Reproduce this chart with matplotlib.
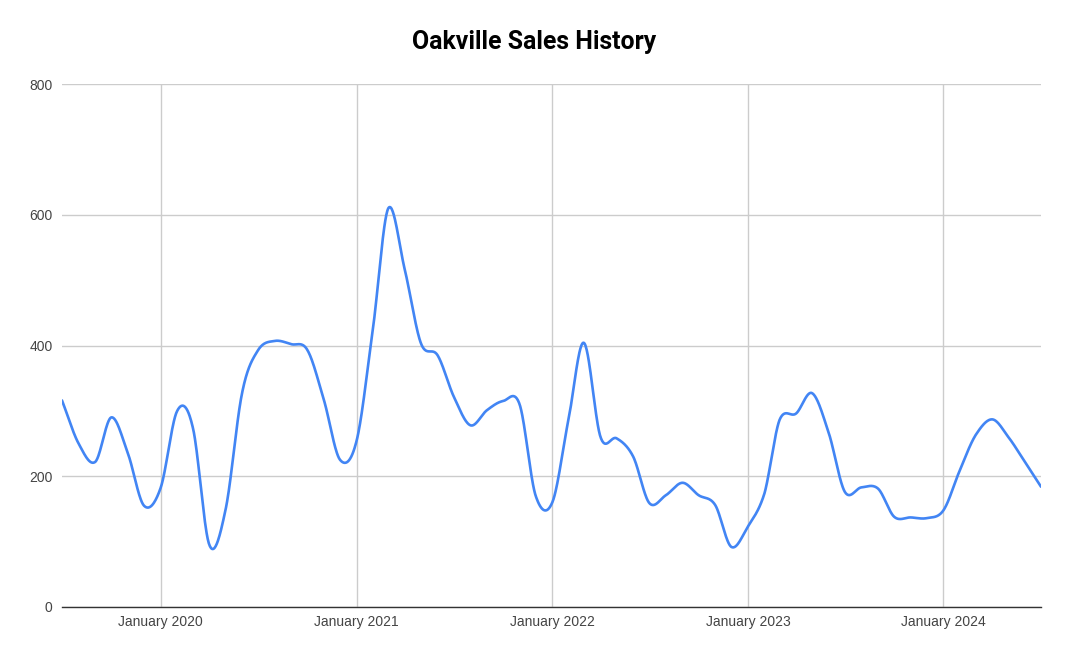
import numpy as np
import pandas as pd
import matplotlib
matplotlib.use("Agg")
import matplotlib.pyplot as plt
import matplotlib.dates as mdates

title = "Oakville Sales History"
start_month = "2019-07-01"
sales = [316, 250, 222, 290, 235, 155, 182, 300, 275, 95,
         148, 327, 393, 407, 402, 393, 316, 225, 255, 430,
         610, 515, 403, 385, 322, 278, 301, 315, 310, 170,
         160, 290, 404, 260, 258, 230, 159, 171, 190, 171,
         156, 92, 123, 174, 286, 296, 327, 266, 176, 183,
         181, 138, 137, 136, 148, 210, 263, 287, 260, 222, 184]
y_ticks = [0, 200, 400, 600, 800]
x_tick_labels = ["January 2020", "January 2021", "January 2022", "January 2023", "January 2024"]
x_tick_dates = ["2020-01-01", "2021-01-01", "2022-01-01", "2023-01-01", "2024-01-01"]

dates = pd.date_range(start_month, periods=len(sales), freq="MS")
xn = mdates.date2num(dates.to_pydatetime())
yv = np.asarray(sales, dtype=float)

# Catmull-Rom style smooth rendering through the data points
n = len(yv)
m = np.zeros(n)
m[1:-1] = (yv[2:] - yv[:-2]) / 2.0
m[0] = yv[1] - yv[0]
m[-1] = yv[-1] - yv[-2]
xs, ys = [], []
steps = 30
for i in range(n - 1):
    t = np.linspace(0, 1, steps, endpoint=False)
    h00 = 2 * t**3 - 3 * t**2 + 1
    h10 = t**3 - 2 * t**2 + t
    h01 = -2 * t**3 + 3 * t**2
    h11 = t**3 - t**2
    ys.append(h00 * yv[i] + h10 * m[i] + h01 * yv[i + 1] + h11 * m[i + 1])
    xs.append(xn[i] + t * (xn[i + 1] - xn[i]))
xs.append([xn[-1]])
ys.append([yv[-1]])
xs = np.concatenate(xs)
ys = np.concatenate(ys)

plt.rcParams['font.family'] = ['Liberation Sans', 'DejaVu Sans']
fig = plt.figure(figsize=(10.7, 6.56), dpi=100)
ax = fig.add_axes([62 / 1070, 1 - 607 / 656, (1041 - 62) / 1070, (607 - 84) / 656])

ax.plot(xs, ys, color="#4285F4", linewidth=1.9, solid_capstyle="round", zorder=3)

ax.set_xlim(xn[0], xn[-1])
ax.set_ylim(0, 800)
ax.set_yticks(y_ticks)
ax.set_yticklabels([str(v) for v in y_ticks])
ax.set_xticks(mdates.date2num(pd.to_datetime(x_tick_dates).to_pydatetime()))
ax.set_xticklabels(x_tick_labels)
ax.tick_params(axis="both", length=0, labelsize=10, colors="#444444")
ax.tick_params(axis="y", pad=6.7)
ax.tick_params(axis="x", pad=6)
ax.grid(True, color="#cccccc", linewidth=1.0, zorder=0)
for s in ["top", "right", "left"]:
    ax.spines[s].set_visible(False)
ax.spines["bottom"].set_color("#333333")
ax.spines["bottom"].set_linewidth(1.0)
ax.spines["bottom"].set_zorder(4)

fig.text(534 / 1070, 1 - 42 / 656, title, ha="center", va="center",
         fontsize=17.9, fontweight="bold", color="#000000",
         family=["Roboto", "DejaVu Sans"])

fig.savefig("out.png", dpi=100)
